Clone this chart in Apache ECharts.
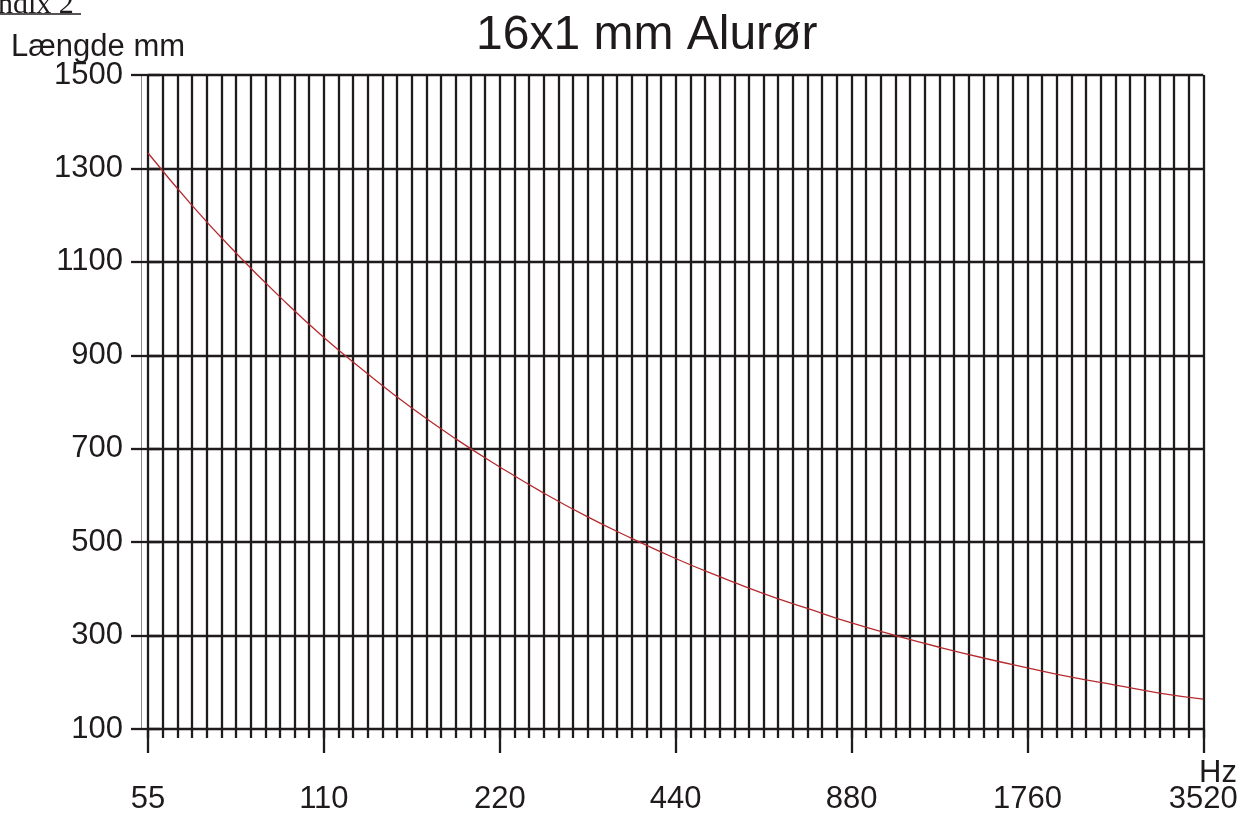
<!DOCTYPE html>
<html>
<head>
<meta charset="utf-8">
<script src="https://cdn.jsdelivr.net/npm/echarts@6/dist/echarts.min.js"></script>
<style>
html,body{margin:0;padding:0;background:#fff;}
#chart{width:1242px;height:815px;}
</style>
</head>
<body>
<div id="chart"></div>
<script>
// Semitone steps above 55 Hz (x positions of the read points)
var semitones = [0,3,6,9,12,15,18,21,24,27,30,33,36,39,42,45,48,51,54,57,60,63,66,69,72];
// Tube length in mm
var lengthMm = [1333,1221,1119,1025,938,860,787,721,661,605,554,508,465,426,390,358,327,300,275,252,231,211,194,177,164];
// Octave tick labels (Hz)
var xTickLabels = ['55','110','220','440','880','1760','3520'];
var yTicks = {min:100, max:1500, step:200};

var ink = '#1f1b1c';
var font = 'Liberation Sans, Arial, Helvetica, sans-serif';
var lw = 2.3;
var chart = echarts.init(document.getElementById('chart'));
var seriesData = semitones.map(function(s,i){return [s, lengthMm[i]];});

chart.setOption({
  backgroundColor:'#fff',
  animation:false,
  title:[
    {text:'16x1 mm Alurør', left:476, top:12, padding:0,
     textStyle:{fontFamily:font, fontSize:48, fontWeight:'normal', color:ink}},
    {text:'Længde mm', left:11, top:32, padding:0,
     textStyle:{fontFamily:font, fontSize:31, fontWeight:'normal', color:ink}},
    {text:'Hz', left:1199, top:758, padding:0,
     textStyle:{fontFamily:font, fontSize:31, fontWeight:'normal', color:ink}}
  ],
  graphic:[
    {type:'text', left:-67, top:-10, style:{text:'Appendix 2', font:'30px "Liberation Serif", "Times New Roman", serif', fill:ink}},
    {type:'line', shape:{x1:0,y1:14,x2:81,y2:14}, style:{stroke:ink, lineWidth:1.5}}
  ],
  grid:{left:148, right:38.7, top:75, bottom:84, containLabel:false},
  xAxis:[
    {type:'value', min:0, max:72, interval:1, position:'bottom',
     axisLine:{show:false},
     axisTick:{show:true, length:9, inside:false, lineStyle:{color:ink, width:lw}},
     axisLabel:{show:false},
     splitLine:{show:true, lineStyle:{color:ink, width:lw}}},
    {type:'value', min:0, max:72, interval:12, position:'bottom',
     axisLine:{show:false},
     axisTick:{show:true, length:24, inside:false, lineStyle:{color:ink, width:lw}},
     axisLabel:{show:true, margin:55, fontFamily:font, fontSize:31, color:ink,
       formatter:function(v){return xTickLabels[Math.round(v/12)];}},
     splitLine:{show:false}}
  ],
  yAxis:[
    {type:'value', min:yTicks.min, max:yTicks.max, interval:yTicks.step, position:'left',
     axisLine:{show:false},
     axisTick:{show:true, length:17, lineStyle:{color:ink, width:lw}},
     axisLabel:{show:true, margin:25, fontFamily:font, fontSize:31, color:ink,
       formatter:function(v){return String(v);}},
     splitLine:{show:true, lineStyle:{color:ink, width:lw}}},
    {type:'value', min:yTicks.min, max:yTicks.max, interval:yTicks.step, position:'right',
     axisLine:{show:false},
     axisTick:{show:true, length:12, lineStyle:{color:ink, width:lw}},
     axisLabel:{show:false}, splitLine:{show:false}},
    {type:'value', min:yTicks.min, max:yTicks.max, interval:yTicks.step, position:'left', offset:7,
     axisLine:{show:true, lineStyle:{color:'#8a8a8a', width:1}},
     axisTick:{show:false}, axisLabel:{show:false}, splitLine:{show:false}}
  ],
  series:[{
    type:'line', xAxisIndex:0, yAxisIndex:0, data:seriesData,
    smooth:true, showSymbol:false, symbol:'none',
    lineStyle:{color:'#b52a2e', width:1.3}, z:10
  }]
});
</script>
</body>
</html>
